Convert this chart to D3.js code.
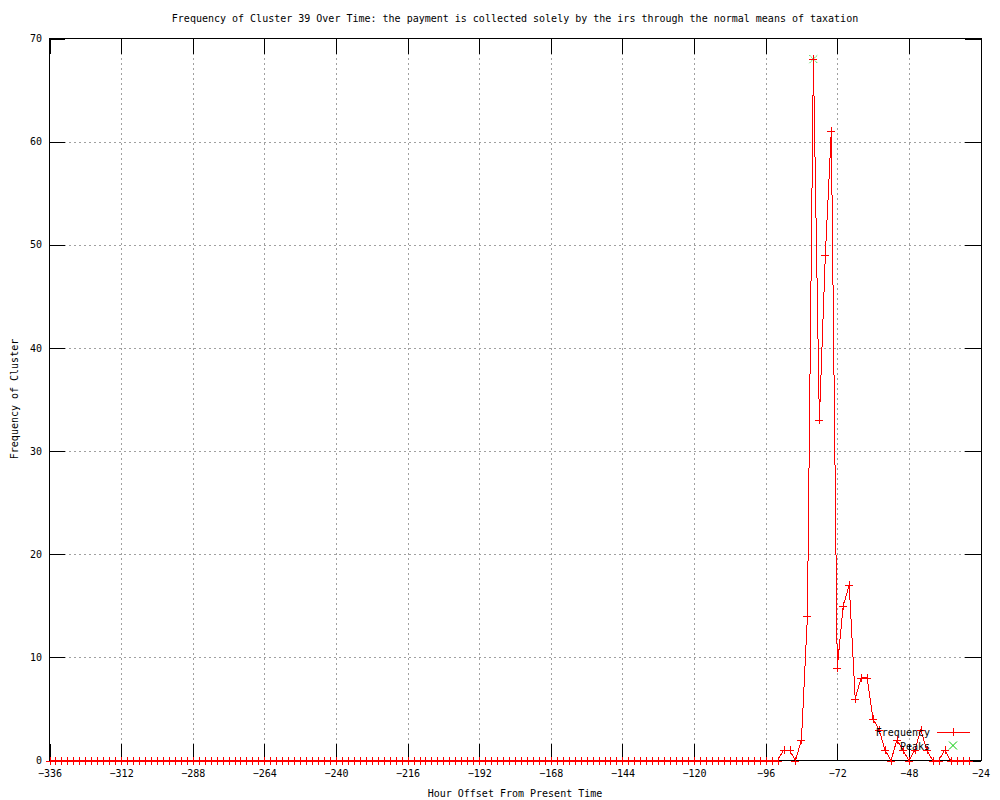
<!DOCTYPE html>
<html>
<head>
<meta charset="utf-8">
<script src="https://cdn.jsdelivr.net/npm/d3@7"></script>
<style>
  body { margin: 0; background: #fff; }
  svg { display: block; }
  text { font-family: "DejaVu Sans Mono", "Liberation Mono", monospace; font-size: 10px; fill: #000; }
</style>
</head>
<body>
<svg width="1000" height="800"></svg>
<script>
// hours offset, one sample every 2 hours
var hours = d3.range(-336, -27, 2);

// frequency per sample, -336 .. -28
var frequency = [
    0, 0, 0, 0, 0, 0, 0, 0, 0, 0, 0, 0, 0, 0, 0, 0, 0, 0, 0, 0,   // -336 .. -298
    0, 0, 0, 0, 0, 0, 0, 0, 0, 0, 0, 0, 0, 0, 0, 0, 0, 0, 0, 0,   // -296 .. -258
    0, 0, 0, 0, 0, 0, 0, 0, 0, 0, 0, 0, 0, 0, 0, 0, 0, 0, 0, 0,   // -256 .. -218
    0, 0, 0, 0, 0, 0, 0, 0, 0, 0, 0, 0, 0, 0, 0, 0, 0, 0, 0, 0,   // -216 .. -178
    0, 0, 0, 0, 0, 0, 0, 0, 0, 0, 0, 0, 0, 0, 0, 0, 0, 0, 0, 0,   // -176 .. -138
    0, 0, 0, 0, 0, 0, 0, 0, 0, 0, 0, 0, 0, 0, 0, 0, 0, 0, 0, 0,   // -136 .. -98
    0, 0, 0,                                                      // -96 .. -92
    1, 1, 0, 2, 14, 68, 33, 49, 61, 9,                            // -90 .. -72
    15, 17, 6, 8, 8, 4, 3, 1, 0, 2,                               // -70 .. -52
    1, 0, 1, 3, 1, 0, 0, 1, 0, 0, 0, 0                            // -50 .. -28
];

var peakHours = [-80];
var peakValues = [68];

var xTicks = [-336, -312, -288, -264, -240, -216, -192, -168, -144, -120, -96, -72, -48, -24];
var yTicks = [0, 10, 20, 30, 40, 50, 60, 70];

var titleText = "Frequency of Cluster 39 Over Time: the payment is collected solely by the irs through the normal means of taxation";
var xLabel = "Hour Offset From Present Time";
var yLabel = "Frequency of Cluster";
var legendLabels = ["Frequency", "Peaks"];

var red = "#ff0000";
var green = "#00c800";
var plotL = 49, plotR = 981, plotT = 38, plotB = 760;

var svg = d3.select("svg");

var x = d3.scaleLinear().domain([-336, -24]).range([plotL + 0.5, plotR - 0.5]);
var y = d3.scaleLinear().domain([0, 70]).range([plotB + 0.5, plotT + 0.5]);

var data = hours.map(function (h, i) { return {hour: h, freq: frequency[i]}; });
var peaks = peakHours.map(function (h, i) { return {hour: h, freq: peakValues[i]}; });

// grid
var grid = svg.append("g")
    .attr("stroke", "#a0a0a0")
    .attr("stroke-dasharray", "2,3")
    .attr("shape-rendering", "crispEdges");
grid.selectAll("line.gx")
    .data(xTicks.slice(1, -1))
    .enter().append("line")
    .attr("x1", function (d) { return Math.round(x(d)) + 0.5; })
    .attr("x2", function (d) { return Math.round(x(d)) + 0.5; })
    .attr("y1", plotT)
    .attr("y2", plotB);
grid.selectAll("line.gy")
    .data(yTicks.slice(1, -1))
    .enter().append("line")
    .attr("y1", function (d) { return Math.round(y(d)) + 0.5; })
    .attr("y2", function (d) { return Math.round(y(d)) + 0.5; })
    .attr("x1", plotL)
    .attr("x2", plotR);

// axes, ticks pointing inward
function styleAxis(g) {
    g.select(".domain").remove();
    g.selectAll("line").attr("stroke", "#000").attr("shape-rendering", "crispEdges");
    g.selectAll("text")
        .attr("font-family", "DejaVu Sans Mono, monospace")
        .attr("font-size", 10)
        .attr("fill", "#000");
}

svg.append("g")
    .attr("transform", "translate(0," + plotB + ")")
    .call(d3.axisBottom(x).tickValues(xTicks).tickSize(-16).tickPadding(10))
    .call(styleAxis);
svg.append("g")
    .attr("transform", "translate(0," + plotT + ")")
    .call(d3.axisTop(x).tickValues(xTicks).tickSize(-16).tickFormat(""))
    .call(styleAxis);
svg.append("g")
    .attr("transform", "translate(" + plotL + ",0)")
    .call(d3.axisLeft(y).tickValues(yTicks).tickSize(-16).tickPadding(7))
    .call(styleAxis);
svg.append("g")
    .attr("transform", "translate(" + plotR + ",0)")
    .call(d3.axisRight(y).tickValues(yTicks).tickSize(-16).tickFormat(""))
    .call(styleAxis);

// border
svg.append("rect")
    .attr("x", plotL + 0.5)
    .attr("y", plotT + 0.5)
    .attr("width", plotR - plotL)
    .attr("height", plotB - plotT)
    .attr("fill", "none")
    .attr("stroke", "#000")
    .attr("shape-rendering", "crispEdges");

// series line
var line = d3.line()
    .x(function (d) { return x(d.hour); })
    .y(function (d) { return y(d.freq); });

svg.append("path")
    .datum(data)
    .attr("d", line)
    .attr("fill", "none")
    .attr("stroke", red)
    .attr("stroke-width", 1)
    .attr("shape-rendering", "crispEdges");

var plusPath = "M-4,0H4M0,-4V4";
var crossPath = "M-4,-4L4,4M-4,4L4,-4";

// peak markers
svg.selectAll("path.peak")
    .data(peaks)
    .enter().append("path")
    .attr("class", "peak")
    .attr("d", crossPath)
    .attr("transform", function (d) { return "translate(" + x(d.hour) + "," + y(d.freq) + ")"; })
    .attr("stroke", green)
    .attr("stroke-dasharray", "1,1")
    .attr("fill", "none");

// frequency markers
svg.selectAll("path.pt")
    .data(data)
    .enter().append("path")
    .attr("class", "pt")
    .attr("d", plusPath)
    .attr("transform", function (d) {
        return "translate(" + Math.round(x(d.hour)) + "," + Math.round(y(d.freq)) + ")";
    })
    .attr("stroke", red)
    .attr("fill", "none")
    .attr("shape-rendering", "crispEdges");

// legend
var legend = svg.append("g");
legend.append("text")
    .attr("x", 930).attr("y", 736)
    .attr("text-anchor", "end")
    .text(legendLabels[0]);
legend.append("line")
    .attr("x1", 937).attr("x2", 970)
    .attr("y1", 732.5).attr("y2", 732.5)
    .attr("stroke", red);
legend.append("path")
    .attr("d", plusPath)
    .attr("transform", "translate(953,732)")
    .attr("stroke", red)
    .attr("shape-rendering", "crispEdges");
legend.append("text")
    .attr("x", 930).attr("y", 750)
    .attr("text-anchor", "end")
    .text(legendLabels[1]);
legend.append("path")
    .attr("d", crossPath)
    .attr("transform", "translate(953,745.5)")
    .attr("stroke", green)
    .attr("fill", "none");

// titles
svg.append("text")
    .attr("x", (plotL + plotR) / 2)
    .attr("y", 22)
    .attr("text-anchor", "middle")
    .text(titleText);
svg.append("text")
    .attr("x", (plotL + plotR) / 2)
    .attr("y", 797)
    .attr("text-anchor", "middle")
    .text(xLabel);
svg.append("text")
    .attr("transform", "translate(17.5," + (plotT + plotB) / 2 + ") rotate(-90)")
    .attr("text-anchor", "middle")
    .text(yLabel);
</script>
</body>
</html>
